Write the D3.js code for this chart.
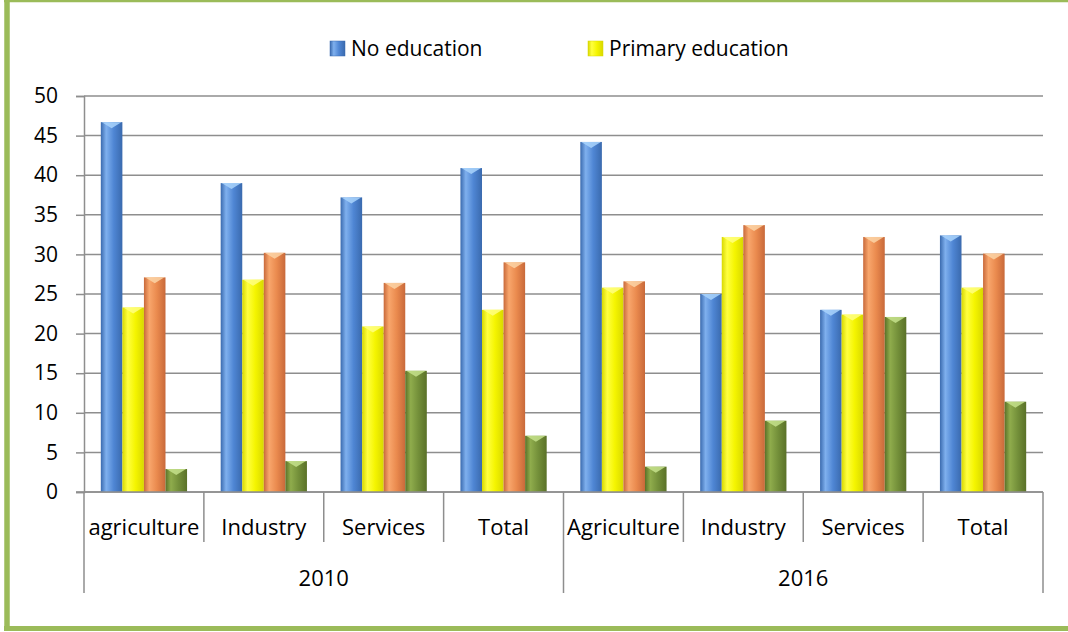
<!DOCTYPE html>
<html>
<head>
<meta charset="utf-8">
<script src="https://cdn.jsdelivr.net/npm/d3@7"></script>
<style>
  html, body { margin: 0; padding: 0; background: #fff; }
  svg { display: block; font-family: "Open Sans", Lato, "Liberation Sans", sans-serif; }
</style>
</head>
<body>
<svg id="chart" width="1068" height="632"></svg>
<script>
// ---- Data ----
const years = ["2010", "2016"];
const categories = ["agriculture", "Industry", "Services", "Total", "Agriculture", "Industry", "Services", "Total"];
const categoryYear = ["2010", "2010", "2010", "2010", "2016", "2016", "2016", "2016"];
const seriesNames = ["No education", "Primary education", "Secondary education", "Higher education"];
const legendNames = ["No education", "Primary education"];
const noEducation = [46.7, 39.0, 37.2, 40.9, 44.2, 25.0, 23.0, 32.4];
const primaryEducation = [23.3, 26.8, 20.9, 23.0, 25.8, 32.2, 22.4, 25.8];
const secondaryEducation = [27.1, 30.2, 26.4, 29.0, 26.6, 33.7, 32.2, 30.1];
const higherEducation = [2.9, 3.9, 15.3, 7.1, 3.2, 9.0, 22.1, 11.4];
const yTicks = [0, 5, 10, 15, 20, 25, 30, 35, 40, 45, 50];

const seriesValues = [noEducation, primaryEducation, secondaryEducation, higherEducation];
const colors = {
  "No education": { base: "#4f86d4", light: "#7fb0ee", dark: "#3a6aae", cap: "#a9d4fb" },
  "Primary education": { base: "#f5f500", light: "#ffff40", dark: "#d8d800", cap: "#ffff80" },
  "Secondary education": { base: "#ea8a4e", light: "#f8a66c", dark: "#c8693a", cap: "#fcd3a6" },
  "Higher education": { base: "#74903a", light: "#8fac4c", dark: "#5a7128", cap: "#c6e28c" }
};

const svg = d3.select("#chart");
const W = 1068, H = 632;
const plot = { left: 84, right: 1043, top: 96, bottom: 492 };
const FONT = "21px";
const CAT_FONT = "22px";

const keys = categories.map((c, i) => categoryYear[i] + "|" + i);

const x = d3.scaleBand().domain(keys).range([plot.left, plot.right]).paddingInner(0).paddingOuter(0);
const xs = d3.scaleBand().domain(seriesNames).range([0, x.bandwidth()]).paddingInner(0).paddingOuter(0.78);
const y = d3.scaleLinear().domain([0, 50]).range([plot.bottom, plot.top]);

const defs = svg.append("defs");
seriesNames.forEach((s, i) => {
  const c = colors[s];
  const g = defs.append("linearGradient").attr("id", "g" + i).attr("x1", "0").attr("x2", "1").attr("y1", "0").attr("y2", "0");
  g.append("stop").attr("offset", "0%").attr("stop-color", c.dark);
  g.append("stop").attr("offset", "25%").attr("stop-color", c.light);
  g.append("stop").attr("offset", "60%").attr("stop-color", c.base);
  g.append("stop").attr("offset", "100%").attr("stop-color", c.dark);
});

// gridlines
svg.append("g").selectAll("line").data(yTicks).join("line")
  .attr("x1", plot.left).attr("x2", plot.right)
  .attr("y1", d => y(d)).attr("y2", d => y(d))
  .attr("stroke", "#8e8e8e").attr("stroke-width", 1.5);

// y axis
const yAxis = svg.append("g").attr("transform", `translate(${plot.left},0)`)
  .call(d3.axisLeft(y).tickValues(yTicks).tickSize(8).tickPadding(18).tickFormat(d3.format("d")));
yAxis.select(".domain").attr("stroke", "#8e8e8e").attr("stroke-width", 1.5);
yAxis.selectAll(".tick line").attr("stroke", "#8e8e8e").attr("stroke-width", 1.5);
yAxis.selectAll(".tick text").attr("fill", "#000").style("font-size", FONT).style("font-family", "'Open Sans', Lato, sans-serif");

// bars
const groups = svg.append("g").selectAll("g").data(keys).join("g")
  .attr("transform", d => `translate(${x(d)},0)`);

groups.each(function (k, ci) {
  const g = d3.select(this);
  const data = seriesNames.map((s, si) => ({ s, si, v: seriesValues[si][ci] }));
  g.selectAll("rect").data(data).join("rect")
    .attr("x", d => xs(d.s))
    .attr("y", d => y(d.v))
    .attr("width", xs.bandwidth())
    .attr("height", d => y(0) - y(d.v))
    .attr("fill", d => `url(#g${d.si})`);
  g.selectAll("path.cap").data(data).join("path").attr("class", "cap")
    .attr("d", d => {
      const x0 = xs(d.s), w = xs.bandwidth(), t = y(d.v);
      return `M${x0 + 1},${t} L${x0 + w - 1},${t} L${x0 + w / 2},${t + 6} Z`;
    })
    .attr("fill", d => colors[d.s].cap).attr("opacity", 0.85);
});

// x axis baseline
svg.append("line").attr("x1", plot.left - 8).attr("x2", plot.right)
  .attr("y1", y(0)).attr("y2", y(0)).attr("stroke", "#8e8e8e").attr("stroke-width", 1.5);

// category separators
const boundaries = keys.map(k => x(k)).concat([plot.right]);
svg.append("g").selectAll("line").data(boundaries).join("line")
  .attr("x1", d => d).attr("x2", d => d)
  .attr("y1", y(0))
  .attr("y2", (d, i) => (i === 0 || i === 4 || i === 8) ? 593 : 542)
  .attr("stroke", "#8e8e8e").attr("stroke-width", 1.5);

// category labels
svg.append("g").selectAll("text").data(keys).join("text")
  .attr("x", d => x(d) + x.bandwidth() / 2)
  .attr("y", 527)
  .attr("dy", "0.35em")
  .attr("text-anchor", "middle")
  .style("font-size", CAT_FONT)
  .text((d, i) => categories[i]);

// year labels
svg.append("g").selectAll("text").data(years).join("text")
  .attr("x", yr => {
    const ks = keys.filter(k => k.startsWith(yr + "|"));
    return (x(ks[0]) + x(ks[ks.length - 1]) + x.bandwidth()) / 2;
  })
  .attr("y", 578)
  .attr("dy", "0.35em")
  .attr("text-anchor", "middle")
  .style("font-size", CAT_FONT)
  .text(d => d);

// legend
const legendX = [330, 588];
const lg = svg.append("g").selectAll("g").data(legendNames).join("g")
  .attr("transform", (d, i) => `translate(${legendX[i]},41)`);
lg.append("rect").attr("width", 15).attr("height", 15)
  .attr("fill", d => `url(#g${seriesNames.indexOf(d)})`)
  .attr("stroke", d => colors[d].dark).attr("stroke-width", 0.5);
lg.append("text").attr("x", 21).attr("y", 8).attr("dy", "0.35em")
  .style("font-size", FONT).text(d => d);

// green frame
const frame = svg.append("g").attr("stroke", "#9bbb59");
frame.append("line").attr("x1", 7).attr("x2", 7).attr("y1", 0).attr("y2", 631).attr("stroke-width", 5.5);
frame.append("line").attr("x1", 4).attr("x2", W).attr("y1", 1).attr("y2", 1).attr("stroke-width", 2.5);
frame.append("line").attr("x1", 4).attr("x2", W).attr("y1", 628.5).attr("y2", 628.5).attr("stroke-width", 5);
</script>
</body>
</html>
